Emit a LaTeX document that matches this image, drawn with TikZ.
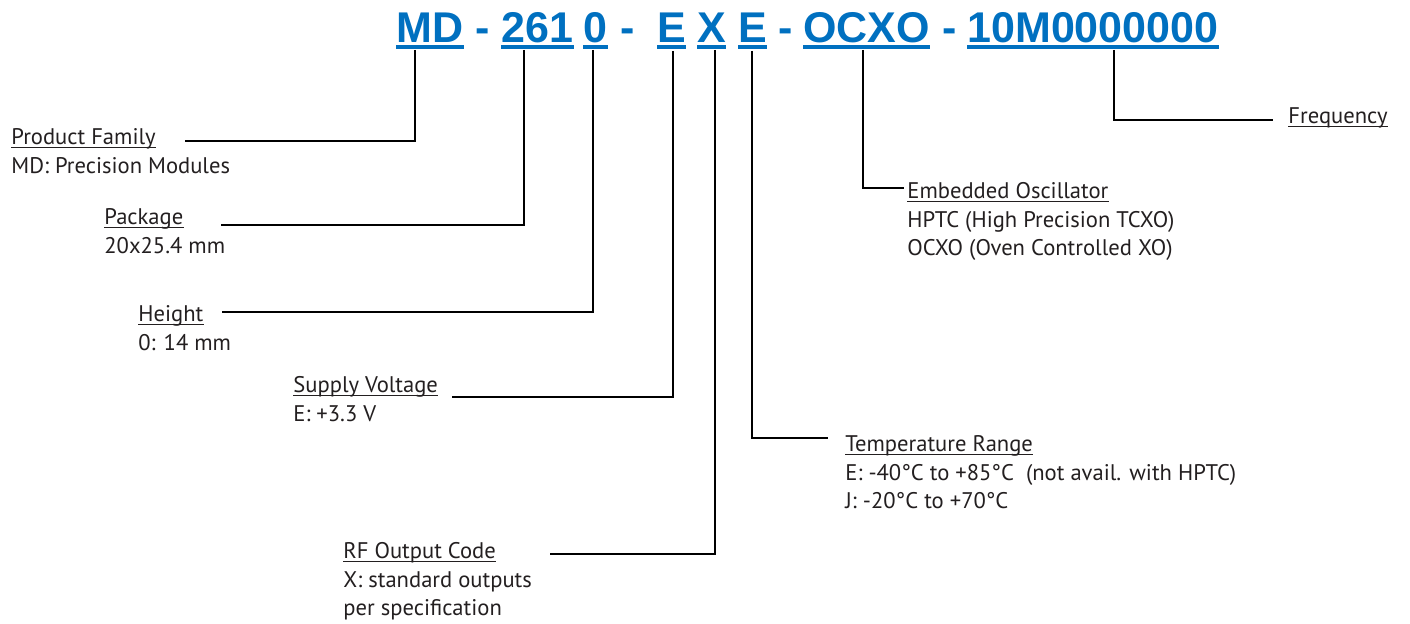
\documentclass[tikz,border=0pt]{standalone}
\usepackage{fontspec}
\setmainfont{PT Sans}
\newfontfamily\titlefont{Liberation Sans}
\definecolor{pnblue}{RGB}{0,112,192}
\definecolor{txt}{RGB}{35,31,32}
\newcommand\tpiece[3]{\node[title] (#1) at (#2,43) {#3};
  \draw[ul] ([yshift=-1.9pt]#1.base west) -- ([yshift=-1.9pt]#1.base east);}
\newcommand\lhead[4]{\node[head] (#1) at (#2,#3) {#4};
  \draw[hul] ([yshift=-1.3pt]#1.base west) -- ([yshift=-1.3pt]#1.base east);}
\newcommand\ldesc[4]{\node[head] (#1) at (#2,#3) {#4};}
\begin{document}
\begin{tikzpicture}[x=0.5pt,y=-0.5pt,
  title/.style={font=\titlefont\bfseries\fontsize{21.5}{24}\selectfont, text=pnblue, inner sep=0pt, anchor=base west},
  sepdash/.style={font=\titlefont\bfseries\fontsize{21.5}{24}\selectfont, text=pnblue, inner sep=0pt, anchor=base},
  ul/.style={draw=pnblue, line width=1.8pt},
  head/.style={font=\fontsize{11.3}{13}\selectfont, inner sep=0pt, anchor=base west, text=txt},
  hul/.style={line width=0.65pt, draw=txt},
  lead/.style={line width=1.3pt, draw=black, line join=miter}]
\useasboundingbox (0,0) rectangle (1410,624);
% leader end points
\coordinate (a1) at (415,50);  \coordinate (b1) at (185,141);
\coordinate (a2) at (524,50);  \coordinate (b2) at (221,225);
\coordinate (a3) at (593,50);  \coordinate (b3) at (222,312);
\coordinate (a4) at (673,51);  \coordinate (b4) at (452,397);
\coordinate (a5) at (715,50);  \coordinate (b5) at (550,554);
\coordinate (a6) at (752,51);  \coordinate (b6) at (828,438);
\coordinate (a7) at (863,50);  \coordinate (b7) at (904,188);
\coordinate (a8) at (1114,50); \coordinate (b8) at (1273,120);
\foreach \i in {1,...,8}{\draw[lead] (a\i) |- (b\i);}
% part number
\tpiece{md}{396}{MD}
\node[sepdash] (d1) at (482.5,43) {-};
\tpiece{pkg}{501}{261}
\tpiece{hgt}{583}{0}
\node[sepdash] (d2) at (627.5,43) {-};
\tpiece{sv}{657}{E}
\tpiece{rf}{697}{X}
\tpiece{tr}{738}{E}
\node[sepdash] (d3) at (786,43) {-};
\tpiece{osc}{803}{OCXO}
\node[sepdash] (d4) at (949.5,43) {-};
\tpiece{frq}{967}{10M0000000}
% labels
\lhead{h1}{11}{145}{Product Family}
\ldesc{l1}{11}{174}{MD: Precision Modules}
\lhead{h2}{104}{225}{Package}
\ldesc{l2}{104}{254}{20x25.4 mm}
\lhead{h3}{138}{322}{Height}
\ldesc{l3}{138}{351}{0: 14 mm}
\lhead{h4}{293}{393}{Supply Voltage}
\ldesc{l4}{293}{422}{E: +3.3 V}
\lhead{h5}{343}{559}{RF Output Code}
\ldesc{l5a}{343}{588}{X: standard outputs}
\ldesc{l5b}{343}{616}{per specification}
\lhead{h6}{845}{452}{Temperature Range}
\ldesc{l6a}{845}{481}{E: -40°C to +85°C\ \ (not avail. with HPTC)}
\ldesc{l6b}{845}{509}{J: -20°C to +70°C}
\lhead{h7}{907}{199}{Embedded Oscillator}
\ldesc{l7a}{907}{228}{HPTC (High Precision TCXO)}
\ldesc{l7b}{907}{256}{OCXO (Oven Controlled XO)}
\lhead{h8}{1288}{124}{Frequency}
\end{tikzpicture}
\end{document}
